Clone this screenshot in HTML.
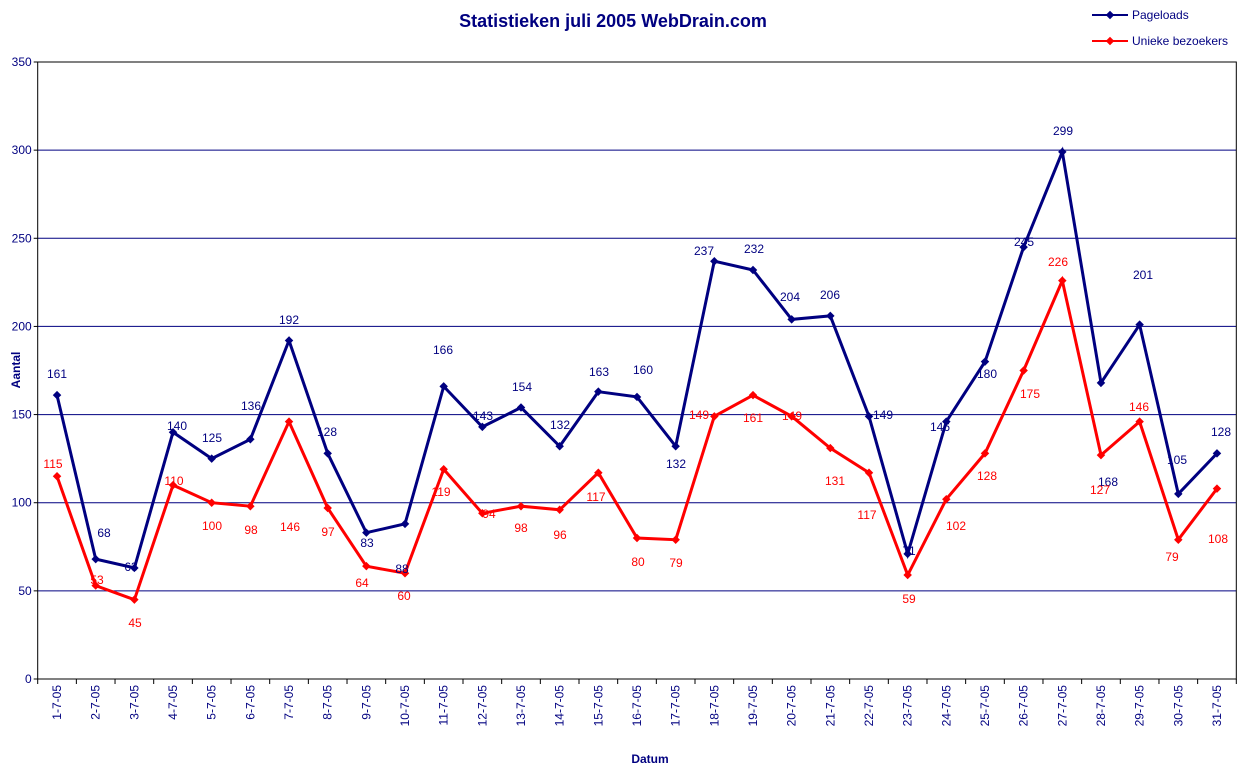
<!DOCTYPE html>
<html><head><meta charset="utf-8"><style>
body{margin:0;background:#fff;}
svg{display:block;font-family:"Liberation Sans",sans-serif;}
</style></head><body>
<svg id="c" width="1253" height="773" xmlns="http://www.w3.org/2000/svg"></svg>
<script>
const P=[161,68,63,140,125,136,192,128,83,88,166,143,154,132,163,160,132,237,232,204,206,149,71,146,180,245,299,168,201,105,128];
const U=[115,53,45,110,100,98,146,97,64,60,119,94,98,96,117,80,79,149,161,149,131,117,59,102,128,175,226,127,146,79,108];
const PL=[[57,373],[104,532],[131,566],[177,425],[212,437],[251,405],[289,319],[327,431],[367,542],[402,568],[443,349],[483,415],[522,386],[560,424],[599,371],[643,369],[676,463],[704,250],[754,248],[790,296],[830,294],[883,414],[909,550],[940,426],[987,373],[1024,241],[1063,130],[1108,481],[1143,274],[1177,459],[1221,431]];
const UL=[[53,463],[97,579],[135,622],[174,480],[212,525],[251,529],[290,526],[328,531],[362,582],[404,595],[441,491],[489,513],[521,527],[560,534],[596,496],[638,561],[676,562],[699,414],[753,417],[792,415],[835,480],[867,514],[909,598],[956,525],[987,475],[1030,393],[1058,261],[1100,489],[1139,406],[1172,556],[1218,538]];
const L=37.7,R=1236.3,T=62,B=679,step=(R-L)/31;
const X=i=>L+step*(i+0.5),Y=v=>B-(B-T)*v/350;
let s='';
s+=`<text x="613" y="27" text-anchor="middle" font-size="18" font-weight="bold" fill="#000080">Statistieken juli 2005 WebDrain.com</text>`;
for(let k=0;k<=7;k++){const y=Y(k*50);s+=`<line x1="${L}" x2="${R}" y1="${y}" y2="${y}" stroke="${k==0?'#000':'#000080'}" stroke-width="1"/>`;s+=`<line x1="${L-4}" x2="${L}" y1="${y}" y2="${y}" stroke="#000"/>`;s+=`<text x="${L-6}" y="${y+4}" text-anchor="end" font-size="12" fill="#000080">${k*50}</text>`;}
s+=`<rect x="${L}" y="${T}" width="${R-L}" height="${B-T}" fill="none" stroke="#000"/>`;
for(let i=0;i<=31;i++){const x=L+step*i;s+=`<line x1="${x}" x2="${x}" y1="${B}" y2="${B+5}" stroke="#000"/>`;}
for(let i=0;i<31;i++){const x=X(i)+4;s+=`<text transform="translate(${x},${B+6}) rotate(-90)" text-anchor="end" font-size="12" fill="#000080">${i+1}-7-05</text>`;}
s+=`<text x="650" y="763" text-anchor="middle" font-size="12" font-weight="bold" fill="#000080">Datum</text>`;
s+=`<text transform="translate(20,370) rotate(-90)" text-anchor="middle" font-size="12" font-weight="bold" fill="#000080">Aantal</text>`;
function series(d,c){let p=d.map((v,i)=>`${X(i).toFixed(1)},${Y(v).toFixed(1)}`).join(' ');s+=`<polyline points="${p}" fill="none" stroke="${c}" stroke-width="3"/>`;d.forEach((v,i)=>{s+=`<rect x="${X(i)-3}" y="${Y(v)-3}" width="6" height="6" fill="${c}" transform="rotate(45 ${X(i)} ${Y(v)})"/>`;});}
series(P,'#000080');series(U,'#ff0000');
P.forEach((v,i)=>s+=`<text x="${PL[i][0]}" y="${PL[i][1]+5}" text-anchor="middle" font-size="12" fill="#000080">${v}</text>`);
U.forEach((v,i)=>s+=`<text x="${UL[i][0]}" y="${UL[i][1]+5}" text-anchor="middle" font-size="12" fill="#ff0000">${v}</text>`);
s+=`<line x1="1092" x2="1128" y1="15" y2="15" stroke="#000080" stroke-width="2"/><rect x="1107" y="12" width="6" height="6" fill="#000080" transform="rotate(45 1110 15)"/><text x="1132" y="19" font-size="12" fill="#000080">Pageloads</text>`;
s+=`<line x1="1092" x2="1128" y1="41" y2="41" stroke="#ff0000" stroke-width="2"/><rect x="1107" y="38" width="6" height="6" fill="#ff0000" transform="rotate(45 1110 41)"/><text x="1132" y="45" font-size="12" fill="#000080">Unieke bezoekers</text>`;
document.getElementById('c').innerHTML=s;
</script>
</body></html>
